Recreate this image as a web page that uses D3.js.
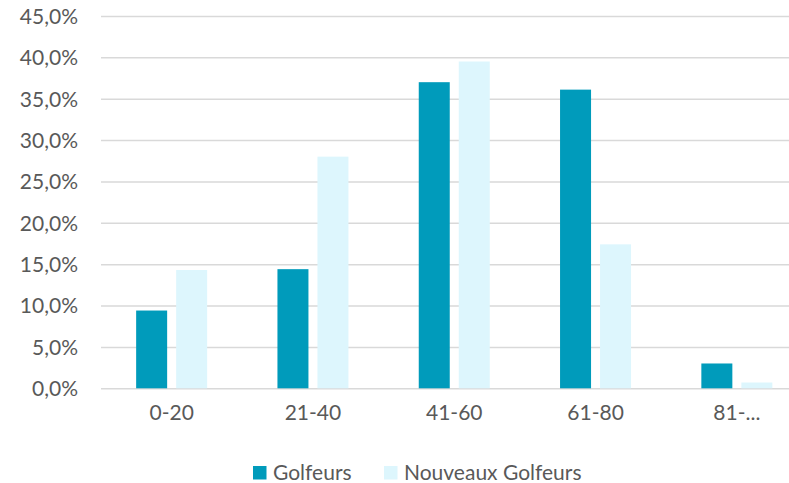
<!DOCTYPE html>
<html><head><meta charset="utf-8">
<script src="https://cdn.jsdelivr.net/npm/d3@7"></script>
<style>body{margin:0;background:#fff}svg{display:block}text{font-family:Lato,"Open Sans",sans-serif;fill:#595959}</style>
</head><body><svg id="c" width="789" height="483"></svg>
<script>
const categories = ["0-20","21-40","41-60","61-80","81-..."];
const seriesNames = ["Golfeurs","Nouveaux Golfeurs"];
const golfeurs = [9.4,14.4,37.0,36.1,3.0];
const nouveaux = [14.3,28.0,39.5,17.4,0.7];
const yTicks = [0,5,10,15,20,25,30,35,40,45];
const colors = ["#009BBB","#DDF6FD"];
const FS = "21px";

const svg = d3.select("#c");
const x0 = d3.scaleBand().domain(categories).range([101,807.5]).paddingInner(0.4975).paddingOuter(0.4975/2);
const x1 = d3.scaleBand().domain(seriesNames).range([0,x0.bandwidth()]).paddingInner(0.225);
const y = d3.scaleLinear().domain([0,45]).range([388.3,16]);
const fmt = v => v.toFixed(1).replace(".",",")+"%";

const yAxis = d3.axisLeft(y).tickValues(yTicks).tickSize(-(807.5-101)).tickFormat(fmt).tickPadding(23);
const gy = svg.append("g").attr("transform","translate(101,0)").call(yAxis);
gy.select(".domain").remove();
gy.selectAll(".tick line").attr("stroke","#D9D9D9").attr("stroke-width",1.5);
gy.selectAll(".tick text").style("font-size",FS).attr("fill","#595959").attr("dy","0.35em");

const data = categories.map((c,i)=>({cat:c, vals:[golfeurs[i],nouveaux[i]]}));
const g = svg.append("g").selectAll("g").data(data).join("g")
  .attr("transform",d=>`translate(${x0(d.cat)},0)`);
g.selectAll("rect").data(d=>d.vals.map((v,j)=>({s:seriesNames[j],v,j}))).join("rect")
  .attr("x",d=>x1(d.s)).attr("width",x1.bandwidth())
  .attr("y",d=>y(d.v)).attr("height",d=>y(0)-y(d.v))
  .attr("fill",d=>colors[d.j]);

const xAxis = d3.axisBottom(x0).tickSize(0).tickPadding(23);
const gx = svg.append("g").attr("transform","translate(0,388.3)").call(xAxis);
gx.select(".domain").remove();
gx.selectAll(".tick text").style("font-size",FS).attr("fill","#595959").attr("dy","0.4em");

const legX = [253,384];
const leg = svg.append("g").selectAll("g").data(seriesNames).join("g")
  .attr("transform",(d,i)=>`translate(${legX[i]},466)`);
leg.append("rect").attr("width",13.5).attr("height",13.5).attr("fill",(d,i)=>colors[i]);
leg.append("text").attr("x",20).attr("y",13.5).style("font-size",FS).text(d=>d);
</script></body></html>
